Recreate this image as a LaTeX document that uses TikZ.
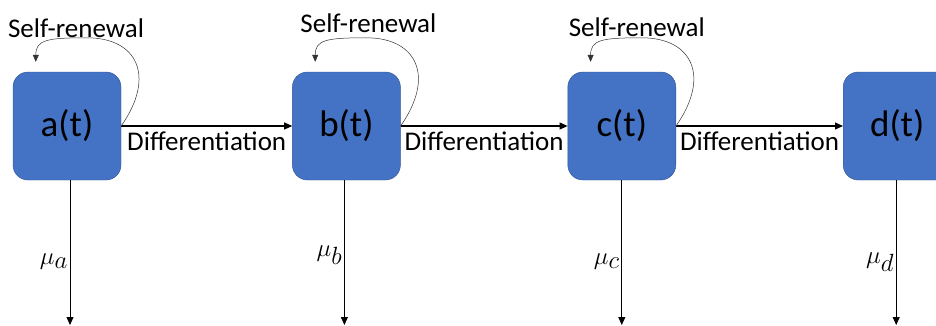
\documentclass[tikz,border=0pt]{standalone}
\usepackage{fontspec}
\setmainfont{Carlito}
\usetikzlibrary{arrows.meta, positioning}
\definecolor{cellblue}{HTML}{4472C4}
\definecolor{celledge}{HTML}{2F528F}
\tikzset{
  cell/.style    = {rectangle, draw=celledge, fill=cellblue, rounded corners=15pt,
                    minimum width=108pt, minimum height=108pt, inner sep=0pt,
                    font=\fontsize{37}{42}\selectfont},
  diffarrow/.style = {-{Triangle[length=8pt,width=7pt]}, line width=1.1pt},
  deatharrow/.style = {-{Triangle[length=8pt,width=7pt]}, line width=0.8pt},
  renew/.style   = {-{Triangle[length=7pt,width=6pt]}, line width=0.5pt, black!80},
  lbl/.style     = {font=\fontsize{27}{32}\selectfont, inner sep=1pt},
}

\begin{document}
\begin{tikzpicture}[x=1pt, y=1pt, node distance=168pt]
  \useasboundingbox (0,0) rectangle (936,325);
  \node[cell] at (67,199) (a) {a(t)};
  \node[cell, right=171pt of a] (b) {b(t)};
  \node[cell, right=167pt of b] (c) {c(t)};
  \node[cell, right=167pt of c] (d) {d(t)};
  % differentiation steps
  \foreach \p/\q in {a/b,b/c,c/d}
    \draw[diffarrow] (\p) -- node[lbl, below=4pt] {Differentiation} (\q);
  % loss terms
  \foreach \n/\s/\h in {a/3/63,b/-2/70,c/0/63,d/-1/63} {
    \coordinate (\n in) at ([xshift=\s pt]\n.south);
    \coordinate (\n out) at (\n in |- 0,0);
    \draw[deatharrow] (\n in) -- (\n out);
    \node[font=\fontsize{34}{38}\selectfont, anchor=east, inner sep=2pt]
      at ([yshift=\h pt]\n out) {$\mu_{\n}$};
  }
  % self-renewal loops
  \foreach \n/\dx/\dy in {a/9/44,b/22/49,c/15/45} {
    \coordinate (\n top) at ([shift={(23,10)}]\n.north west);
    \draw[renew] (\n.east) .. controls +(35,50) and +(50,0) .. ([shift={(20,34)}]\n.north)
      .. controls +(-40,0) and +(0,22) .. (\n top);
    \node[lbl] at ([shift={(\dx,\dy)}]\n.north) {Self-renewal};
  }
\end{tikzpicture}
\end{document}
